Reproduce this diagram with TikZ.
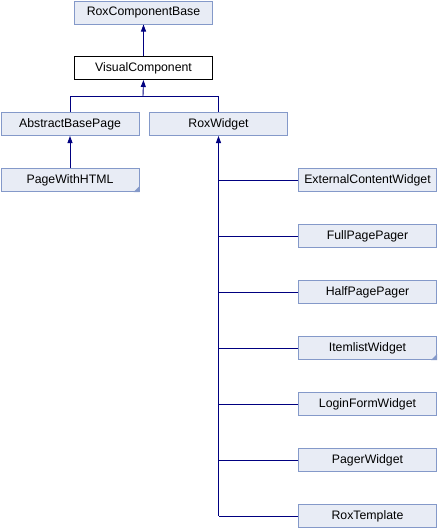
\documentclass[tikz,border=0pt]{standalone}
\usepackage{fontspec}
\setmainfont{Liberation Sans}
\usetikzlibrary{arrows.meta}
\definecolor{boxfill}{HTML}{E8ECF5}
\definecolor{boxdraw}{HTML}{8499C9}
\definecolor{linecol}{HTML}{000080}
\definecolor{cornercol}{HTML}{8499C9}
\tikzset{
  cls/.style={draw=boxdraw, fill=boxfill, line width=1pt, minimum width=138pt, minimum height=23pt, inner sep=0pt, anchor=north west, font=\fontsize{12.3}{14}\selectfont},
  cur/.style={cls, draw=black, fill=white},
  link/.style={draw=linecol, line width=0.9pt},
  arr/.style={link, -{Triangle[length=7pt,width=5pt]}},
}
\newcommand{\corner}[1]{\fill[cornercol] (#1.south east) -- ++(-6,0) -- ++(6,-6) -- cycle;}
\begin{document}
\begin{tikzpicture}[x=1pt,y=-1pt]
\useasboundingbox (0,0) rectangle (437,528);
\node[cls] (rcb) at (74,0.5) {RoxComponentBase};
\node[cur] (vc) at (74,56) {VisualComponent};
\node[cls] (abp) at (0.5,112) {AbstractBasePage};
\node[cls] (rw) at (149,112) {RoxWidget};
\node[cls] (pwh) at (0.5,168) {PageWithHTML};
\node[cls] (ecw) at (298,168) {ExternalContentWidget};
\node[cls] (fpp) at (298,224) {FullPagePager};
\node[cls] (hpp) at (298,280) {HalfPagePager};
\node[cls] (ilw) at (298,336) {ItemlistWidget};
\node[cls] (lfw) at (298,392) {LoginFormWidget};
\node[cls] (pw) at (298,448) {PagerWidget};
\node[cls] (rt) at (298,504) {RoxTemplate};
\corner{pwh}
\corner{ilw}
\coordinate (j1) at (143,96);
\draw[arr] (vc.north) -- (rcb.south);
\draw[arr] (j1) -- (vc.south);
\draw[link] (abp.north) -- (abp.north |- j1) -- (rw.north |- j1) -- (rw.north);
\draw[arr] (pwh.north) -- (abp.south);
\draw[arr] (rw.south |- rt.west) -- (rw.south);
\foreach \n in {ecw,fpp,hpp,ilw,lfw,pw,rt}{
  \draw[link] (\n.west) -- (\n.west -| rw.south);
}
\end{tikzpicture}
\end{document}
